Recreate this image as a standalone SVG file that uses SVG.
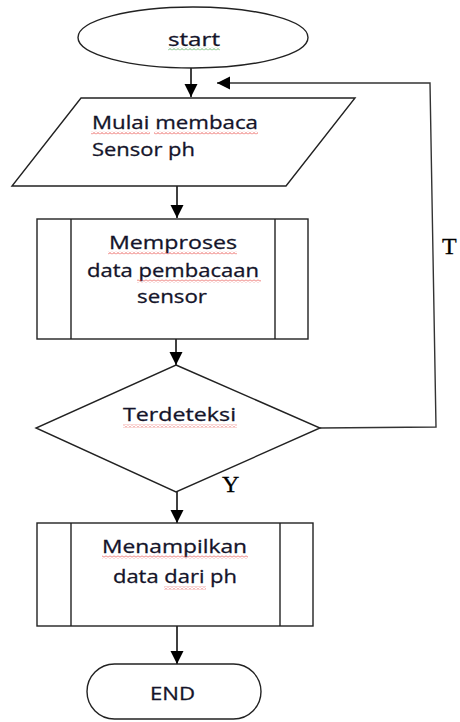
<svg xmlns="http://www.w3.org/2000/svg" width="460" height="722" viewBox="0 0 460 722">
<defs>
<marker id="arr" markerUnits="userSpaceOnUse" markerWidth="14" markerHeight="14" viewBox="0 0 14 14" refX="13" refY="7" orient="auto">
<path d="M0,0.5 L13,7 L0,13.5 z" fill="#000"/>
</marker>
<pattern id="wr" patternUnits="userSpaceOnUse" width="4" height="3">
<path d="M0,2.5 L2,0.5 L4,2.5" fill="none" stroke="#e53935" stroke-width="0.8"/>
</pattern>
<pattern id="wg" patternUnits="userSpaceOnUse" width="4" height="3">
<path d="M0,2.5 L2,0.5 L4,2.5" fill="none" stroke="#43a047" stroke-width="0.8"/>
</pattern>
</defs>
<style>
.shape{fill:#fff;stroke:#222;stroke-width:1.4}
.line{fill:none;stroke:#000;stroke-width:1.5}
.loop{fill:none;stroke:#333;stroke-width:1.4}
.lbl{font-family:"Open Sans","Liberation Sans",sans-serif;font-size:19px;fill:#14142a;stroke:#14142a;stroke-width:0.3}
.yt{font-family:"Liberation Serif","Times New Roman",serif;font-size:24px;fill:#000;stroke:#000;stroke-width:0.3}
</style>
<rect width="460" height="722" fill="#fff"/>

<g id="connectors">
<line class="line" x1="191" y1="68" x2="191" y2="97" marker-end="url(#arr)"/>
<line class="line" x1="177" y1="186" x2="177" y2="218" marker-end="url(#arr)"/>
<line class="line" x1="176" y1="339" x2="176" y2="365" marker-end="url(#arr)"/>
<line class="line" x1="177" y1="492" x2="177" y2="523" marker-end="url(#arr)"/>
<line class="line" x1="177" y1="626" x2="177" y2="664" marker-end="url(#arr)"/>
<polyline class="loop" points="320,428 436,427 430,83 217,83" marker-end="url(#arr)"/>
<text class="yt" x="442" y="254">T</text>
<text class="yt" x="222" y="492">Y</text>
</g>

<g id="start">
<ellipse class="shape" cx="193" cy="37.5" rx="115" ry="30.5"/>
<text class="lbl" x="168" y="46" textLength="52" lengthAdjust="spacingAndGlyphs">start</text>
<rect x="168" y="47.5" width="52" height="3" fill="url(#wg)"/>
</g>

<g id="baca-sensor">
<polygon class="shape" points="81,98 355,98 286,186 12,186"/>
<text class="lbl" x="92" y="129" textLength="166" lengthAdjust="spacingAndGlyphs">Mulai membaca</text>
<text class="lbl" x="92" y="156" textLength="103" lengthAdjust="spacingAndGlyphs">Sensor ph</text>
<rect x="91" y="131.5" width="59" height="3" fill="url(#wr)"/>
<rect x="154" y="131.5" width="104" height="3" fill="url(#wr)"/>
</g>

<g id="proses">
<rect class="shape" x="37" y="219" width="271" height="120"/>
<line class="shape" x1="71" y1="219" x2="71" y2="339"/>
<line class="shape" x1="275" y1="219" x2="275" y2="339"/>
<text class="lbl" x="109" y="249" textLength="128" lengthAdjust="spacingAndGlyphs">Memproses</text>
<text class="lbl" x="87" y="277" textLength="172" lengthAdjust="spacingAndGlyphs">data pembacaan</text>
<text class="lbl" x="137" y="303" textLength="70" lengthAdjust="spacingAndGlyphs">sensor</text>
<rect x="108" y="251.5" width="129" height="3" fill="url(#wr)"/>
<rect x="137" y="279.5" width="124" height="3" fill="url(#wr)"/>
</g>

<g id="terdeteksi">
<polygon class="shape" points="176,365 320,428 176,492 36,428"/>
<text class="lbl" x="123" y="421" textLength="113" lengthAdjust="spacingAndGlyphs">Terdeteksi</text>
<rect x="123" y="424.5" width="114" height="3" fill="url(#wr)"/>
</g>

<g id="tampil">
<rect class="shape" x="37" y="523" width="276" height="103"/>
<line class="shape" x1="71" y1="523" x2="71" y2="626"/>
<line class="shape" x1="280" y1="523" x2="280" y2="626"/>
<text class="lbl" x="102" y="553" textLength="145" lengthAdjust="spacingAndGlyphs">Menampilkan</text>
<text class="lbl" x="113" y="583" textLength="124" lengthAdjust="spacingAndGlyphs">data dari ph</text>
<rect x="102" y="555.5" width="146" height="3" fill="url(#wr)"/>
<rect x="164" y="586.5" width="42" height="3" fill="url(#wr)"/>
</g>

<g id="end">
<rect class="shape" x="87" y="664" width="174" height="55" rx="27.5" ry="27.5"/>
<text class="lbl" x="150" y="700" textLength="45" lengthAdjust="spacingAndGlyphs">END</text>
</g>
</svg>
